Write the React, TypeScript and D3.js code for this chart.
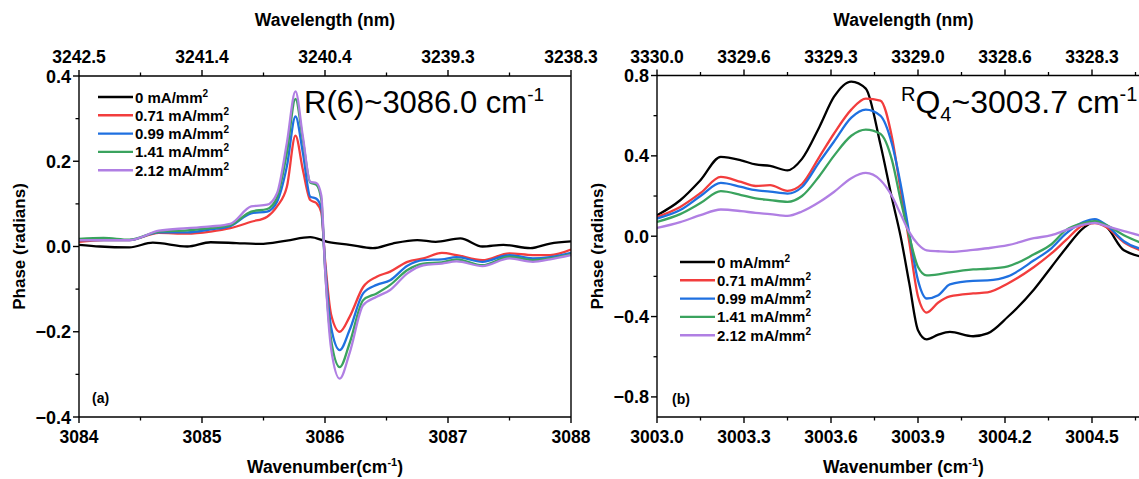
import React from "react";
import * as d3 from "d3";

// ---------- Panel (a): R(6) line ----------
const waveA = [3084.0, 3084.2, 3084.41, 3084.65, 3084.88, 3085.07, 3085.23, 3085.4, 3085.53, 3085.61, 3085.69, 3085.76, 3085.82, 3085.88, 3085.93, 3085.97, 3086.0, 3086.05, 3086.12, 3086.2, 3086.31, 3086.42, 3086.53, 3086.67, 3086.8, 3086.95, 3087.07, 3087.28, 3087.5, 3087.69, 3087.83, 3088.0];
const a071 = [0.011, 0.015, 0.015, 0.032, 0.03, 0.035, 0.043, 0.058, 0.07, 0.094, 0.14, 0.26, 0.18, 0.109, 0.102, 0.08, -0.03, -0.16, -0.2, -0.165, -0.095, -0.071, -0.059, -0.036, -0.028, -0.015, -0.02, -0.032, -0.016, -0.02, -0.02, -0.007];
const a099 = [0.015, 0.015, 0.015, 0.033, 0.033, 0.04, 0.048, 0.078, 0.082, 0.105, 0.188, 0.305, 0.22, 0.117, 0.112, 0.09, -0.04, -0.19, -0.243, -0.196, -0.11, -0.09, -0.079, -0.045, -0.032, -0.03, -0.025, -0.036, -0.02, -0.028, -0.025, -0.015];
const a141 = [0.018, 0.02, 0.016, 0.035, 0.038, 0.043, 0.05, 0.082, 0.088, 0.115, 0.22, 0.346, 0.25, 0.15, 0.145, 0.11, -0.05, -0.22, -0.283, -0.227, -0.126, -0.11, -0.09, -0.055, -0.04, -0.037, -0.03, -0.044, -0.024, -0.032, -0.028, -0.018];
const a212 = [0.015, 0.015, 0.015, 0.037, 0.043, 0.047, 0.053, 0.094, 0.098, 0.125, 0.243, 0.364, 0.258, 0.152, 0.149, 0.12, -0.05, -0.24, -0.31, -0.25, -0.138, -0.118, -0.102, -0.063, -0.044, -0.04, -0.035, -0.046, -0.028, -0.036, -0.03, -0.02];

const waveA0 = [3084.0, 3084.17, 3084.41, 3084.6, 3084.88, 3085.07, 3085.28, 3085.47, 3085.69, 3085.88, 3086.02, 3086.2, 3086.39, 3086.55, 3086.75, 3086.9, 3087.1, 3087.28, 3087.45, 3087.67, 3087.83, 3088.0];
const a0 = [0.004, 0.0, -0.002, 0.009, 0.0, 0.01, 0.008, 0.006, 0.014, 0.022, 0.011, 0.004, -0.004, 0.007, 0.015, 0.011, 0.019, 0.0, 0.004, -0.004, 0.007, 0.012];

const ticksA = [3084, 3085, 3086, 3087, 3088];
const topLabelsA = ["3242.5", "3241.4", "3240.4", "3239.3", "3238.3"];
const yTicksA = [0.4, 0.2, 0.0, -0.2, -0.4];

// ---------- Panel (b): RQ4 line ----------
const waveB = [3003.0, 3003.08, 3003.15, 3003.22, 3003.29, 3003.34, 3003.39, 3003.45, 3003.5, 3003.56, 3003.61, 3003.67, 3003.72, 3003.77, 3003.81, 3003.84, 3003.87, 3003.9, 3003.93, 3003.97, 3004.01, 3004.09, 3004.14, 3004.21, 3004.3, 3004.36, 3004.41, 3004.47, 3004.51, 3004.55, 3004.61, 3004.7];
const b0 = [0.104, 0.179, 0.279, 0.395, 0.378, 0.357, 0.35, 0.328, 0.385, 0.544, 0.693, 0.77, 0.735, 0.46, 0.19, 0.0, -0.235, -0.468, -0.514, -0.49, -0.476, -0.498, -0.484, -0.401, -0.265, -0.153, -0.06, 0.04, 0.072, 0.046, -0.07, -0.11];
const b071 = [0.096, 0.146, 0.215, 0.295, 0.27, 0.25, 0.254, 0.226, 0.26, 0.395, 0.51, 0.63, 0.685, 0.675, 0.494, 0.23, -0.03, -0.3, -0.38, -0.33, -0.3, -0.285, -0.28, -0.235, -0.153, -0.086, -0.02, 0.055, 0.065, 0.045, -0.03, -0.085];
const b099 = [0.088, 0.13, 0.2, 0.265, 0.245, 0.229, 0.222, 0.212, 0.245, 0.37, 0.47, 0.59, 0.63, 0.6, 0.46, 0.26, 0.013, -0.22, -0.31, -0.294, -0.24, -0.222, -0.22, -0.2, -0.12, -0.06, 0.013, 0.07, 0.085, 0.055, -0.025, -0.075];
const b141 = [0.071, 0.11, 0.165, 0.224, 0.205, 0.188, 0.18, 0.171, 0.2, 0.3, 0.4, 0.5, 0.531, 0.51, 0.38, 0.18, 0.0, -0.153, -0.195, -0.19, -0.18, -0.165, -0.162, -0.15, -0.09, -0.04, 0.03, 0.065, 0.075, 0.055, 0.005, -0.05];
const b212 = [0.041, 0.07, 0.105, 0.133, 0.125, 0.116, 0.11, 0.101, 0.123, 0.17, 0.22, 0.289, 0.315, 0.28, 0.2, 0.11, 0.02, -0.04, -0.07, -0.075, -0.078, -0.068, -0.06, -0.045, -0.01, 0.005, 0.03, 0.058, 0.066, 0.05, 0.025, -0.01];

const ticksB = [3003.0, 3003.3, 3003.6, 3003.9, 3004.2, 3004.5];
const topLabelsB = ["3330.0", "3329.6", "3329.3", "3329.0", "3328.6", "3328.3"];
const yTicksB = [0.8, 0.4, 0.0, -0.4, -0.8];

// ---------- Legend ----------
const currents = ["0", "0.71", "0.99", "1.41", "2.12"];
const colors = ["#000000", "#f23d3d", "#1f70e0", "#3aa35e", "#b07fe3"];

const W = 1139;
const H = 479;
const FONT = "'Liberation Sans', Arial, Helvetica, sans-serif";

const fmtY = (v: number) => (v < 0 ? "\u2212" + Math.abs(v).toFixed(1) : v.toFixed(1));

type PanelProps = {
  id: string;
  x0: number;
  x1: number;
  yTop: number;
  yBot: number;
  xDomain: [number, number];
  yDomain: [number, number];
  xTicks: number[];
  xMinorStep: number;
  xTickFmt: (v: number) => string;
  topLabels: string[];
  yTicks: number[];
  yMinorStep: number;
  series: { x: number[]; y: number[]; color: string }[];
  rightBorder: boolean;
  xTitle: string;
};

function Panel(p: PanelProps) {
  const x = d3.scaleLinear().domain(p.xDomain).range([p.x0, p.x1]);
  const y = d3.scaleLinear().domain(p.yDomain).range([p.yBot, p.yTop]);
  const line = d3
    .line<[number, number]>()
    .x((d) => x(d[0]))
    .y((d) => y(d[1]))
    .curve(d3.curveMonotoneX);

  const xMinor: number[] = [];
  for (let v = p.xTicks[0]; v <= p.xDomain[1] + 1e-9; v += p.xMinorStep) {
    xMinor.push(+v.toFixed(4));
  }
  const xMinorOnly = xMinor.filter((v) => !p.xTicks.some((t) => Math.abs(t - v) < 1e-6));

  const yMinor: number[] = [];
  for (let v = Math.ceil(p.yDomain[0] / p.yMinorStep) * p.yMinorStep; v <= p.yDomain[1] + 1e-9; v += p.yMinorStep) {
    yMinor.push(+v.toFixed(4));
  }
  const yMinorOnly = yMinor.filter((v) => !p.yTicks.some((t) => Math.abs(t - v) < 1e-6));

  const cx = (p.x0 + p.x1) / 2;
  const visRight = Math.min(p.x1, W + 5);

  return (
    <g>
      <defs>
        <clipPath id={`clip-${p.id}`}>
          <rect x={p.x0} y={p.yTop} width={p.x1 - p.x0} height={p.yBot - p.yTop} />
        </clipPath>
      </defs>

      {/* curves */}
      <g clipPath={`url(#clip-${p.id})`}>
        {p.series.map((s, i) => (
          <path
            key={i}
            d={line(s.x.map((v, k) => [v, s.y[k]] as [number, number])) || ""}
            fill="none"
            stroke={s.color}
            strokeWidth={2.3}
            strokeLinejoin="round"
          />
        ))}
      </g>

      {/* frame */}
      <line x1={p.x0} x2={visRight} y1={p.yBot} y2={p.yBot} stroke="#000" strokeWidth={1.4} />
      <line x1={p.x0} x2={visRight} y1={p.yTop} y2={p.yTop} stroke="#000" strokeWidth={1.4} />
      <line x1={p.x0} x2={p.x0} y1={p.yTop} y2={p.yBot} stroke="#000" strokeWidth={1.4} />
      {p.rightBorder && <line x1={p.x1} x2={p.x1} y1={p.yTop} y2={p.yBot} stroke="#000" strokeWidth={1.4} />}

      {/* bottom & top x ticks */}
      {p.xTicks.map((t) => (
        <g key={`xt${t}`}>
          <line x1={x(t)} x2={x(t)} y1={p.yBot} y2={p.yBot + 6} stroke="#000" strokeWidth={1.4} />
          <line x1={x(t)} x2={x(t)} y1={p.yTop} y2={p.yTop - 6} stroke="#000" strokeWidth={1.4} />
          <text x={x(t)} y={p.yBot + 26} textAnchor="middle" fontFamily={FONT} fontWeight="bold" fontSize={17.5}>
            {p.xTickFmt(t)}
          </text>
        </g>
      ))}
      {p.xTicks.map((t, i) => (
        <text key={`tl${t}`} x={x(t)} y={p.yTop - 13} textAnchor="middle" fontFamily={FONT} fontWeight="bold" fontSize={17.5}>
          {p.topLabels[i]}
        </text>
      ))}
      {xMinorOnly.map((t) => (
        <g key={`xm${t}`}>
          <line x1={x(t)} x2={x(t)} y1={p.yBot} y2={p.yBot + 3.5} stroke="#000" strokeWidth={1.3} />
          <line x1={x(t)} x2={x(t)} y1={p.yTop} y2={p.yTop - 3.5} stroke="#000" strokeWidth={1.3} />
        </g>
      ))}

      {/* y ticks */}
      {p.yTicks.map((t) => (
        <g key={`yt${t}`}>
          <line x1={p.x0 - 6} x2={p.x0} y1={y(t)} y2={y(t)} stroke="#000" strokeWidth={1.4} />
          <text x={p.x0 - 8} y={y(t) + 6.5} textAnchor="end" fontFamily={FONT} fontWeight="bold" fontSize={18}>
            {fmtY(t)}
          </text>
        </g>
      ))}
      {yMinorOnly.map((t) => (
        <line key={`ym${t}`} x1={p.x0 - 3.5} x2={p.x0} y1={y(t)} y2={y(t)} stroke="#000" strokeWidth={1.3} />
      ))}

      {/* axis titles */}
      <text x={cx} y={26} textAnchor="middle" fontFamily={FONT} fontWeight="bold" fontSize={17.5}>
        Wavelength (nm)
      </text>
      <text x={cx} y={473} textAnchor="middle" fontFamily={FONT} fontWeight="bold" fontSize={17.5}>
        {p.xTitle}
        <tspan dy={-7} fontSize={11}>-1</tspan>
        <tspan dy={7}>)</tspan>
      </text>
      <text
        transform={`translate(${p.x0 - 54},${(p.yTop + p.yBot) / 2}) rotate(-90)`}
        textAnchor="middle"
        fontFamily={FONT}
        fontWeight="bold"
        fontSize={17}
      >
        Phase (radians)
      </text>
    </g>
  );
}

function Legend({ x0, y0 }: { x0: number; y0: number }) {
  return (
    <g>
      {currents.map((c, i) => (
        <g key={c}>
          <line x1={x0} x2={x0 + 35} y1={y0 + i * 18.3} y2={y0 + i * 18.3} stroke={colors[i]} strokeWidth={2.4} />
          <text x={x0 + 37} y={y0 + i * 18.3 + 5.5} fontFamily={FONT} fontWeight="bold" fontSize={15}>
            {c} mA/mm
            <tspan dy={-6} fontSize={10}>2</tspan>
          </text>
        </g>
      ))}
    </g>
  );
}

export default function App() {
  const seriesA = [
    { x: waveA0, y: a0, color: colors[0] },
    { x: waveA, y: a071, color: colors[1] },
    { x: waveA, y: a099, color: colors[2] },
    { x: waveA, y: a141, color: colors[3] },
    { x: waveA, y: a212, color: colors[4] },
  ];
  const seriesB = [
    { x: waveB, y: b0, color: colors[0] },
    { x: waveB, y: b071, color: colors[1] },
    { x: waveB, y: b099, color: colors[2] },
    { x: waveB, y: b141, color: colors[3] },
    { x: waveB, y: b212, color: colors[4] },
  ];
  return (
    <svg
      width={W}
      height={H}
      viewBox={`0 0 ${W} ${H}`}
      style={{ position: "absolute", left: 0, top: 0, background: "#fff" }}
    >
      <rect x={0} y={0} width={W} height={H} fill="#fff" />
      <Panel
        id="a"
        x0={79}
        x1={571}
        yTop={76}
        yBot={417}
        xDomain={[3084, 3088]}
        yDomain={[-0.4, 0.4]}
        xTicks={ticksA}
        xMinorStep={0.5}
        xTickFmt={(v) => v.toFixed(0)}
        topLabels={topLabelsA}
        yTicks={yTicksA}
        yMinorStep={0.1}
        series={seriesA}
        rightBorder={true}
        xTitle="Wavenumber(cm"
      />
      <Panel
        id="b"
        x0={657}
        x1={1150}
        yTop={75.5}
        yBot={417}
        xDomain={[3003.0, 3004.7]}
        yDomain={[-0.9, 0.8]}
        xTicks={ticksB}
        xMinorStep={0.15}
        xTickFmt={(v) => v.toFixed(1)}
        topLabels={topLabelsB}
        yTicks={yTicksB}
        yMinorStep={0.2}
        series={seriesB}
        rightBorder={false}
        xTitle="Wavenumber (cm"
      />

      <Legend x0={98} y0={97} />
      <Legend x0={680} y0={262} />

      {/* line labels */}
      <text x={304} y={113} fontFamily={FONT} fontSize={31}>
        R(6)~3086.0 cm
        <tspan dy={-12} fontSize={19}>-1</tspan>
      </text>
      <text x={901} y={113} fontFamily={FONT} fontSize={32}>
        <tspan dy={-12} fontSize={20}>R</tspan>
        <tspan dy={12}>Q</tspan>
        <tspan dy={8} fontSize={20}>4</tspan>
        <tspan dy={-8}>~3003.7 cm</tspan>
        <tspan dy={-12} fontSize={20}>-1</tspan>
      </text>

      <text x={92} y={403} fontFamily={FONT} fontWeight="bold" fontSize={14}>(a)</text>
      <text x={672} y={404} fontFamily={FONT} fontWeight="bold" fontSize={14}>(b)</text>
    </svg>
  );
}
